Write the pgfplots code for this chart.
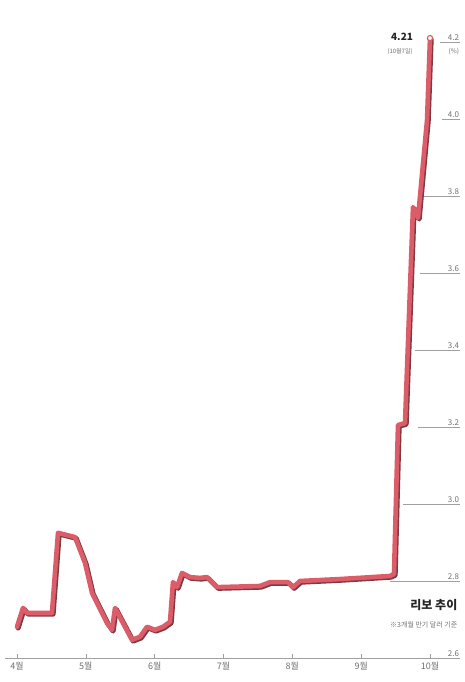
\documentclass[border=0pt]{standalone}
\usepackage{fontspec}
\setmainfont{Noto Sans CJK KR}
\usepackage{pgfplots}
\usepackage{pgfplotstable}
\pgfplotsset{compat=1.18}
\definecolor{libred}{HTML}{DC5C69}
\definecolor{libshadow}{HTML}{7E3A40}
\definecolor{gridgray}{HTML}{A0A0A0}
\definecolor{labgray}{HTML}{707070}
\pgfplotstableread{
m v
4.000 2.681
4.087 2.730
4.145 2.717
4.232 2.717
4.508 2.717
4.596 2.925
4.843 2.914
4.988 2.847
5.090 2.769
5.308 2.691
5.380 2.673
5.424 2.730
5.671 2.647
5.787 2.655
5.889 2.681
6.005 2.673
6.121 2.681
6.223 2.694
6.266 2.797
6.325 2.784
6.397 2.821
6.513 2.810
6.659 2.808
6.760 2.810
6.906 2.784
7.530 2.787
7.676 2.797
7.937 2.797
8.010 2.784
8.112 2.800
8.693 2.805
9.419 2.813
9.477 2.818
9.535 3.205
9.637 3.210
9.753 3.771
9.826 3.743
9.957 3.997
10.000 4.210
}\libor
\begin{document}
\begin{tikzpicture}[x=1pt,y=1pt]
\path[use as bounding box] (-5,-24) rectangle (460,658);
\begin{axis}[
  at={(0,0)}, anchor=south west,
  scale only axis, width=455pt, height=638pt,
  xmin=3.826, xmax=10.436, ymin=2.6, ymax=4.257,
  clip=false,
  axis x line*=bottom, axis y line*=right,
  x axis line style={draw=gridgray, line width=0.8pt},
  y axis line style={draw=none},
  xtick={4,5,6,7,8,9,10},
  xticklabels={4월,5월,6월,7월,8월,9월,10월},
  tick align=inside,
  major tick length=4pt,
  xtick style={draw=gridgray, line width=0.6pt},
  ytick style={draw=none},
  xticklabel style={font=\fontsize{9}{9}\selectfont, text=labgray, yshift=-1pt},
  ytick={2.6,2.8,3.0,3.2,3.4,3.6,3.8,4.0,4.2},
  yticklabel pos=right,
  yticklabel style={anchor=south east, font=\fontsize{8}{8}\selectfont, text=labgray, inner sep=0.8pt,
    /pgf/number format/.cd, fixed, fixed zerofill, precision=1, assume math mode=true},
]
\draw[gridgray, line width=0.6pt] (axis cs:10.146,4.2) -- (axis cs:10.436,4.2);
\draw[gridgray, line width=0.6pt] (axis cs:10.175,4.0) -- (axis cs:10.436,4.0);
\draw[gridgray, line width=0.6pt] (axis cs:9.899,3.8) -- (axis cs:10.436,3.8);
\draw[gridgray, line width=0.6pt] (axis cs:9.855,3.6) -- (axis cs:10.436,3.6);
\draw[gridgray, line width=0.6pt] (axis cs:9.782,3.4) -- (axis cs:10.436,3.4);
\draw[gridgray, line width=0.6pt] (axis cs:9.826,3.2) -- (axis cs:10.436,3.2);
\draw[gridgray, line width=0.6pt] (axis cs:9.608,3.0) -- (axis cs:10.436,3.0);
\draw[gridgray, line width=0.6pt] (axis cs:9.419,2.8) -- (axis cs:10.436,2.8);
\addplot[libshadow, line width=5pt, line join=round, line cap=round, xshift=1.2pt, yshift=-1.2pt] table[x=m,y=v] {\libor};
\addplot[libred, line width=4.6pt, line join=round, line cap=round] table[x=m,y=v] {\libor};
\addplot[only marks, mark=*, mark size=2.6pt, mark options={fill=white, draw=libred, line width=1.2pt}] coordinates {(10.0,4.21)};
\node[font=\bfseries\fontsize{10}{10}\selectfont, text=black!85] at (axis cs:9.594,4.213) {4.21};
\node[font=\fontsize{6}{6}\selectfont, text=labgray] at (axis cs:9.565,4.175) {(10월7일)};
\node[font=\fontsize{6.5}{6.5}\selectfont, text=labgray, anchor=east, inner sep=0.8pt] at (axis cs:10.436,4.175) {(\%)};
\node[font=\bfseries\fontsize{12}{12}\selectfont, text=black!85, anchor=east, inner sep=0pt] at (axis cs:10.40,2.738) {리보 추이};
\node[font=\fontsize{7}{7}\selectfont, text=labgray, anchor=east, inner sep=0pt] at (axis cs:10.40,2.686) {※3개월 만기 달러 기준};
\end{axis}
\end{tikzpicture}
\end{document}
